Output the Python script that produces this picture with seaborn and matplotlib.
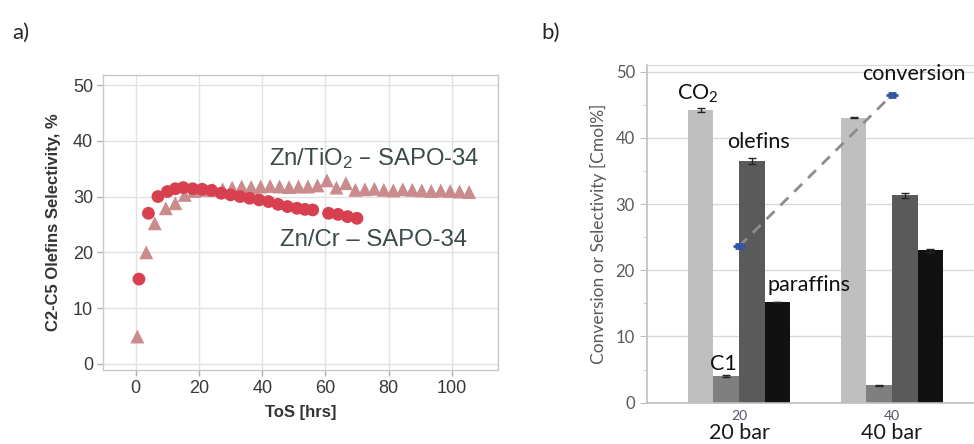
import matplotlib
matplotlib.use("Agg")
import matplotlib.pyplot as plt
import matplotlib.transforms as mtransforms
import seaborn as sns
import pandas as pd
import numpy as np

# --- data ---
# panel a) olefin selectivity vs time on stream
tos_cr = [1, 4, 7, 10, 12.5, 15, 18, 21, 24, 27, 30, 33, 36, 39, 42, 45,
          48, 51, 53.5, 56, 61, 64, 67, 70]
sel_cr = [15.2, 27.0, 30.0, 30.9, 31.4, 31.6, 31.4, 31.3, 31.1, 30.6, 30.3,
          30.0, 29.7, 29.4, 29.1, 28.6, 28.2, 27.9, 27.7, 27.6, 27.0, 26.8,
          26.4, 26.1]
tos_ti = [0.5, 3.3, 6, 9.5, 12.5, 15.5, 18.5, 21.5, 24.5, 27.5, 30.5, 33.5,
          36.5, 39.5, 42.5, 45.5, 48.5, 51.5, 54.5, 57.5, 60.5, 63.5, 66.5,
          69.5, 72.5, 75.5, 78.5, 81.5, 84.5, 87.5, 90.5, 93.5, 96.5, 99.5,
          102.5, 105.5]
sel_ti = [4.9, 20.0, 25.2, 27.9, 28.8, 30.3, 31.0, 31.2, 31.2, 31.3, 31.6,
          31.8, 31.7, 31.8, 31.9, 31.8, 31.7, 31.8, 31.8, 32.0, 32.9, 31.6,
          32.4, 31.2, 31.3, 31.4, 31.2, 31.1, 31.3, 31.2, 31.1, 31.0, 31.1,
          31.0, 30.9, 30.8]

# panel b) product selectivity at two pressures
pressures = ["20", "40"]
pressure_names = ["20 bar", "40 bar"]
products = ["CO2", "C1", "olefins", "paraffins"]
product_labels = [r"CO$\mathregular{_2}$", "C1", "olefins", "paraffins"]
sel_20 = [44.2, 4.0, 36.5, 15.2]
sel_40 = [43.05, 2.6, 31.3, 23.0]
err_20 = [0.25, 0.15, 0.4, 0.05]
err_40 = [0.05, 0.1, 0.35, 0.25]
conversion = [23.6, 46.5]
conversion_err = [0.3, 0.3]

sns.set_style("white")
plt.rcParams["font.family"] = ["Liberation Sans", "DejaVu Sans"]

fig = plt.figure(figsize=(9.74, 4.44), dpi=100)

# ---------------- panel a ----------------
ax1 = fig.add_axes([0.1057, 0.1667, 0.4055, 0.6644])
sns.scatterplot(x=tos_ti, y=sel_ti, marker="^", s=100, color="#c98b8b",
                edgecolor="none", ax=ax1, zorder=3)
sns.scatterplot(x=tos_cr, y=sel_cr, marker="o", s=85, color="#d8404f",
                edgecolor="none", ax=ax1, zorder=4)
ax1.set_xlim(-10.4, 114.6)
ax1.set_ylim(-1.1, 51.8)
ax1.set_xticks(np.arange(0, 101, 20))
ax1.set_yticks(np.arange(0, 51, 10))
ax1.grid(True, color="#e2e2e2", linewidth=1.0)
ax1.set_axisbelow(True)
for sp in ax1.spines.values():
    sp.set_color("#c8c8c8")
    sp.set_linewidth(1.0)
ax1.tick_params(axis="both", length=4, color="#b0b0b0", width=1,
                labelsize=13, labelcolor="#3a3a3a", pad=3, direction="out",
                bottom=True, left=True)
ax1.set_xlabel("ToS [hrs]", fontsize=12, fontweight="bold", color="#333333",
               labelpad=6)
ax1.set_ylabel("C2-C5 Olefins Selectivity, %", fontsize=12,
               fontweight="bold", color="#333333", labelpad=9)
ax1.text(42.3, 36.9, r"Zn/TiO$\mathregular{_2}$ – SAPO-34", fontsize=17.2,
         color="#3b4a4a", va="center", ha="left")
ax1.text(45.5, 22.2, "Zn/Cr – SAPO-34", fontsize=17.2, color="#3b4a4a",
         va="center", ha="left")

# ---------------- panel b ----------------
ax2 = fig.add_axes([0.664, 0.0930, 0.345, 0.7606])
df = pd.DataFrame({
    "pressure": [p for p in pressures for _ in products],
    "product": products * len(pressures),
    "value": sel_20 + sel_40,
})
bar_colors = ["#bfbfbf", "#7f7f7f", "#5a5a5a", "#111111"]
sns.barplot(data=df, x="pressure", y="value", hue="product",
            hue_order=products, order=pressures, palette=bar_colors,
            width=0.667, linewidth=0, errorbar=None, legend=False, ax=ax2,
            zorder=2)

errs = {"20": err_20, "40": err_40}
bar_containers = list(ax2.containers)
for hi, cont in enumerate(bar_containers):
    for pi, bar in enumerate(cont):
        xc = bar.get_x() + bar.get_width() / 2
        ax2.errorbar(xc, bar.get_height(), yerr=errs[pressures[pi]][hi],
                     fmt="none", ecolor="#262626", elinewidth=1,
                     capsize=3, capthick=1, zorder=3)

xpos = np.arange(len(pressures))
ax2.plot(xpos, conversion, linestyle=(0, (4, 3)), color="#8c8c8c",
         linewidth=2, zorder=4)
ax2.errorbar(xpos, conversion, yerr=conversion_err, fmt="_", color="#2f55a4",
             ms=8, mew=2, capsize=3, capthick=1.2, elinewidth=1.2, zorder=5)

ax2.set_xlim(-0.603, -0.603 + 0.345 * 974 / 153)
ax2.set_ylim(0, 51)
ax2.set_yticks(np.arange(0, 51, 10))
ax2.set_yticks(np.arange(5, 50, 10), minor=True)
ax2.yaxis.grid(True, which="major", color="#d9d9d9", linewidth=1)
ax2.set_axisbelow(True)
for side in ["left", "bottom"]:
    ax2.spines[side].set_color("#bfbfbf")
    ax2.spines[side].set_linewidth(1.2)
ax2.spines["top"].set_color("#d9d9d9")
ax2.spines["right"].set_visible(False)
ax2.tick_params(axis="y", which="major", length=5, color="#bfbfbf",
                labelsize=12, labelcolor="#595959", left=True)
ax2.tick_params(axis="y", which="minor", length=3, color="#bfbfbf", left=True)
ax2.tick_params(axis="x", length=0, labelsize=10, labelcolor="#55556a", pad=5)
for lab in ax2.get_xticklabels() + ax2.get_yticklabels():
    lab.set_family(["Lato", "DejaVu Sans"])
ax2.set_xlabel("")
ax2.set_ylabel("Conversion or Selectivity [Cmol%]", fontsize=12.5,
               color="#595959", family=["Lato", "DejaVu Sans"], labelpad=6)

trans = mtransforms.blended_transform_factory(ax2.transData, ax2.transAxes)
for xi, name in zip(xpos, pressure_names):
    ax2.text(xi, -0.1075, name, transform=trans, ha="center", va="baseline",
             fontsize=15.5, color="#1a1a1a", family=["Lato", "DejaVu Sans"])

lab_font = dict(fontsize=15.5, color="#111111", family=["Lato", "DejaVu Sans"],
                ha="center", va="center", zorder=6)
ax2.text(-0.27, 46.7, product_labels[0], **lab_font)
ax2.text(-0.10, 5.9, product_labels[1], **lab_font)
ax2.text(0.13, 39.4, product_labels[2], **lab_font)
ax2.text(0.46, 17.8, product_labels[3], **lab_font)
ax2.text(1.14, 49.7, "conversion", clip_on=False, **lab_font)

# panel letters
fig.text(21 / 974, 1 - 33 / 444, "a)", fontsize=16, ha="center", va="center",
         family=["Lato", "DejaVu Sans"])
fig.text(551 / 974, 1 - 33 / 444, "b)", fontsize=16, ha="center",
         va="center", family=["Lato", "DejaVu Sans"])

fig.savefig("out.png", dpi=100)
